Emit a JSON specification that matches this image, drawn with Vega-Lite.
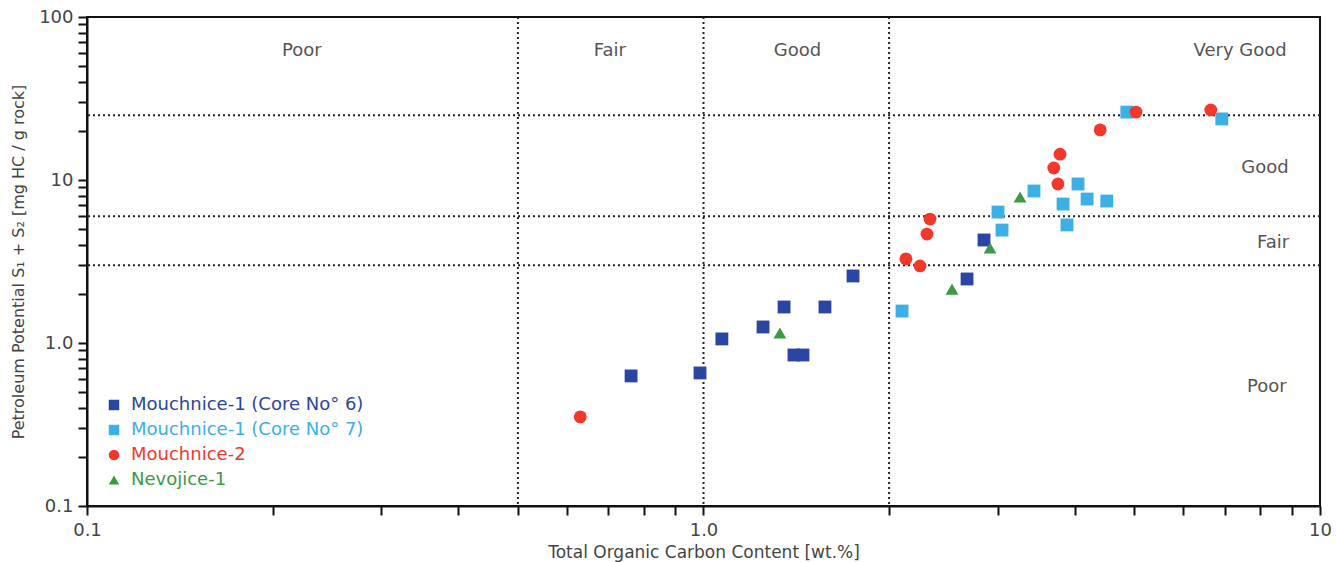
{
  "$schema": "https://vega.github.io/schema/vega-lite/v6.json",
  "width": 1233,
  "height": 489,
  "autosize": "none",
  "padding": {"left": 87, "top": 17, "right": 17, "bottom": 56},
  "background": "white",
  "config": {
    "view": {"stroke": "#111", "strokeWidth": 2},
    "font": "DejaVu Sans",
    "axis": {"grid": false}
  },
  "datasets": {
    "points": [
      {"toc": 0.763, "pp": 0.628, "series": "Mouchnice-1 (Core No° 6)"},
      {"toc": 0.987, "pp": 0.655, "series": "Mouchnice-1 (Core No° 6)"},
      {"toc": 1.071, "pp": 1.059, "series": "Mouchnice-1 (Core No° 6)"},
      {"toc": 1.249, "pp": 1.254, "series": "Mouchnice-1 (Core No° 6)"},
      {"toc": 1.351, "pp": 1.663, "series": "Mouchnice-1 (Core No° 6)"},
      {"toc": 1.402, "pp": 0.844, "series": "Mouchnice-1 (Core No° 6)"},
      {"toc": 1.45, "pp": 0.844, "series": "Mouchnice-1 (Core No° 6)"},
      {"toc": 1.574, "pp": 1.663, "series": "Mouchnice-1 (Core No° 6)"},
      {"toc": 1.748, "pp": 2.577, "series": "Mouchnice-1 (Core No° 6)"},
      {"toc": 2.851, "pp": 4.285, "series": "Mouchnice-1 (Core No° 6)"},
      {"toc": 2.676, "pp": 2.47, "series": "Mouchnice-1 (Core No° 6)"},
      {"toc": 2.099, "pp": 1.571, "series": "Mouchnice-1 (Core No° 7)"},
      {"toc": 3.004, "pp": 6.36, "series": "Mouchnice-1 (Core No° 7)"},
      {"toc": 3.049, "pp": 4.93, "series": "Mouchnice-1 (Core No° 7)"},
      {"toc": 3.436, "pp": 8.56, "series": "Mouchnice-1 (Core No° 7)"},
      {"toc": 3.83, "pp": 7.12, "series": "Mouchnice-1 (Core No° 7)"},
      {"toc": 3.887, "pp": 5.3, "series": "Mouchnice-1 (Core No° 7)"},
      {"toc": 4.05, "pp": 9.45, "series": "Mouchnice-1 (Core No° 7)"},
      {"toc": 4.19, "pp": 7.64, "series": "Mouchnice-1 (Core No° 7)"},
      {"toc": 4.51, "pp": 7.43, "series": "Mouchnice-1 (Core No° 7)"},
      {"toc": 4.86, "pp": 26.1, "series": "Mouchnice-1 (Core No° 7)"},
      {"toc": 6.93, "pp": 23.7, "series": "Mouchnice-1 (Core No° 7)"},
      {"toc": 0.631, "pp": 0.352, "series": "Mouchnice-2"},
      {"toc": 2.33, "pp": 5.76, "series": "Mouchnice-2"},
      {"toc": 2.304, "pp": 4.66, "series": "Mouchnice-2"},
      {"toc": 2.13, "pp": 3.28, "series": "Mouchnice-2"},
      {"toc": 2.245, "pp": 2.97, "series": "Mouchnice-2"},
      {"toc": 3.787, "pp": 14.4, "series": "Mouchnice-2"},
      {"toc": 3.7, "pp": 11.85, "series": "Mouchnice-2"},
      {"toc": 3.758, "pp": 9.45, "series": "Mouchnice-2"},
      {"toc": 4.4, "pp": 20.3, "series": "Mouchnice-2"},
      {"toc": 5.03, "pp": 26.1, "series": "Mouchnice-2"},
      {"toc": 6.65, "pp": 26.9, "series": "Mouchnice-2"},
      {"toc": 1.33, "pp": 1.151, "series": "Nevojice-1"},
      {"toc": 3.262, "pp": 7.86, "series": "Nevojice-1"},
      {"toc": 2.916, "pp": 3.83, "series": "Nevojice-1"},
      {"toc": 2.53, "pp": 2.14, "series": "Nevojice-1"}
    ],
    "vlines": [{"toc": 0.5}, {"toc": 1}, {"toc": 2}],
    "hlines": [{"pp": 25}, {"pp": 6}, {"pp": 3}],
    "regions": [
      {"toc": 0.223, "pp": 62, "label": "Poor"},
      {"toc": 0.705, "pp": 62, "label": "Fair"},
      {"toc": 1.42, "pp": 62, "label": "Good"},
      {"toc": 7.42, "pp": 62, "label": "Very Good"},
      {"toc": 8.14, "pp": 11.8, "label": "Good"},
      {"toc": 8.39, "pp": 4.1, "label": "Fair"},
      {"toc": 8.2, "pp": 0.537, "label": "Poor"}
    ]
  },
  "layer": [
    {
      "data": {"name": "vlines"},
      "mark": {"type": "rule", "stroke": "#222", "strokeWidth": 2, "strokeDash": [2, 3]},
      "encoding": {
        "x": {"field": "toc", "type": "quantitative", "scale": {"type": "log", "domain": [0.1, 10], "nice": false}, "title": "Total Organic Carbon Content [wt.%]"}
      }
    },
    {
      "data": {"name": "hlines"},
      "mark": {"type": "rule", "stroke": "#222", "strokeWidth": 2, "strokeDash": [2, 3]},
      "encoding": {
        "y": {"field": "pp", "type": "quantitative", "scale": {"type": "log", "domain": [0.1, 100], "nice": false}, "title": "Petroleum Potential S₁ + S₂ [mg HC / g rock]"}
      }
    },
    {
      "data": {"name": "regions"},
      "mark": {"type": "text", "fontSize": 18, "fill": "#555", "align": "center", "baseline": "middle", "font": "DejaVu Sans"},
      "encoding": {
        "x": {"field": "toc", "type": "quantitative"},
        "y": {"field": "pp", "type": "quantitative"},
        "text": {"field": "label"}
      }
    },
    {
      "data": {"name": "points"},
      "mark": {"type": "point", "filled": true, "opacity": 1, "size": 165},
      "encoding": {
        "x": {
          "field": "toc", "type": "quantitative",
          "scale": {"type": "log", "domain": [0.1, 10], "nice": false},
          "title": "Total Organic Carbon Content [wt.%]",
          "axis": {
            "values": [0.1, 0.2, 0.3, 0.4, 0.5, 0.6, 0.7, 0.8, 0.9, 1, 2, 3, 4, 5, 6, 7, 8, 9, 10],
            "labelExpr": "datum.value == 0.1 ? '0.1' : datum.value == 1 ? '1.0' : datum.value == 10 ? '10' : ''",
            "labelOverlap": false, "labelBound": false, "labelFlush": false,
            "domainColor": "#111", "domainWidth": 2, "tickColor": "#111", "tickWidth": 2, "tickSize": 9,
            "labelFont": "DejaVu Sans", "labelFontSize": 18, "labelColor": "#444", "labelPadding": 6,
            "titleFont": "DejaVu Sans", "titleFontSize": 17, "titleColor": "#444", "titleFontWeight": "normal",
            "titleY": 46, "titleBaseline": "middle"
          }
        },
        "y": {
          "field": "pp", "type": "quantitative",
          "scale": {"type": "log", "domain": [0.1, 100], "nice": false},
          "title": "Petroleum Potential S₁ + S₂ [mg HC / g rock]",
          "axis": {
            "values": [0.1, 0.2, 0.3, 0.4, 0.5, 0.6, 0.7, 0.8, 0.9, 1, 2, 3, 4, 5, 6, 7, 8, 9, 10, 20, 30, 40, 50, 60, 70, 80, 90, 100],
            "labelExpr": "datum.value == 0.1 ? '0.1' : datum.value == 1 ? '1.0' : datum.value == 10 ? '10' : datum.value == 100 ? '100' : ''",
            "labelOverlap": false, "labelBound": false, "labelFlush": false,
            "domainColor": "#111", "domainWidth": 2, "tickColor": "#111", "tickWidth": 2, "tickSize": 9,
            "labelFont": "DejaVu Sans", "labelFontSize": 18, "labelColor": "#444", "labelPadding": 5,
            "titleFont": "DejaVu Sans", "titleFontSize": 16, "titleColor": "#444", "titleFontWeight": "normal", "titlePadding": 12
          }
        },
        "color": {
          "field": "series", "type": "nominal",
          "scale": {
            "domain": ["Mouchnice-1 (Core No° 6)", "Mouchnice-1 (Core No° 7)", "Mouchnice-2", "Nevojice-1"],
            "range": ["#2b45a2", "#3cafe4", "#f2372b", "#3b9a45"]
          },
          "legend": {
            "orient": "none", "legendX": 18, "legendY": 379, "title": null,
            "labelFont": "DejaVu Sans", "labelFontSize": 18, "symbolSize": 110, "rowPadding": 7,
            "labelOffset": 8, "labelLimit": 400,
            "labelColor": {"expr": "scale('color', datum.value)"}
          }
        },
        "shape": {
          "field": "series", "type": "nominal",
          "scale": {
            "domain": ["Mouchnice-1 (Core No° 6)", "Mouchnice-1 (Core No° 7)", "Mouchnice-2", "Nevojice-1"],
            "range": ["square", "square", "circle", "triangle-up"]
          }
        }
      }
    }
  ]
}
